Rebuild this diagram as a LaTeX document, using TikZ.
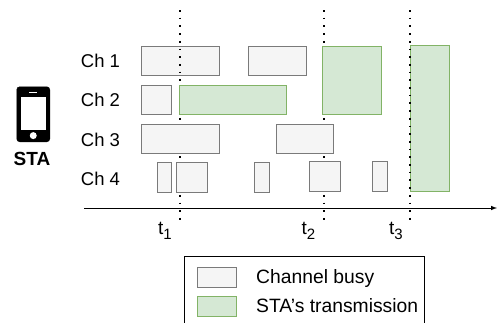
\documentclass[tikz,border=0pt]{standalone}
\usepackage{fontspec}
\setmainfont{Liberation Sans}
\usepackage{tikz}
\usetikzlibrary{arrows,shapes,positioning}
\definecolor{busyfill}{HTML}{F5F5F5}
\definecolor{busyline}{HTML}{7A7A7A}
\definecolor{txfill}{HTML}{D5E8D4}
\definecolor{txline}{HTML}{82B366}
\newcommand{\tsub}[1]{\raisebox{-5pt}{\fontsize{15}{15}\selectfont #1}}
\tikzset{
  basic/.style  = {draw, rectangle, anchor=north west, inner sep=0pt, outer sep=0pt, line width=1pt},
  busy/.style   = {basic, fill=busyfill, draw=busyline},
  tx/.style     = {basic, fill=txfill, draw=txline},
  chan/.style   = {font=\fontsize{18.5}{18.5}\selectfont, inner sep=0pt},
  tick/.style   = {font=\fontsize{19}{19}\selectfont, inner sep=0pt, anchor=base},
  marker/.style = {line width=1.7pt, dash pattern=on 1.7pt off 6pt},
  legtext/.style = {font=\fontsize{19.3}{19.3}\selectfont, inner sep=0pt, anchor=base west}
}

\begin{document}
\begin{tikzpicture}[x=1pt, y=-1pt, >=latex]
\useasboundingbox (0,0) rectangle (497,322);

% end points of the time markers and of the axis
\coordinate (t1top) at (180,10);
\coordinate (t1end) at (180,222);
\coordinate (t2top) at (324,10);
\coordinate (t2end) at (324,222);
\coordinate (t3top) at (410,10);
\coordinate (t3end) at (410,222);
\coordinate (axis0) at (84,208);
\coordinate (axis1) at (497,208);

% the station
\node[draw=black, fill=black, rectangle, rounded corners=3pt, anchor=north west,
  minimum width=33pt, minimum height=55pt, inner sep=0pt, line width=0.5pt] (phone) at (16.5,86.5) {};
\node[fill=white, rectangle, minimum width=25pt, minimum height=33pt, inner sep=0pt,
  below=10.5pt of phone.north] (screen) {};
\node[fill=white, circle, minimum size=7pt, inner sep=0pt, below=1.5pt of screen] (button) {};
\node[fill=white, rectangle, minimum width=8pt, minimum height=1.5pt, inner sep=0pt,
  below=5pt of phone.north] (speaker) {};
\node[font=\bfseries\fontsize{19}{19}\selectfont, inner sep=0pt] (sta) at (32,159) {STA};

% channel names
\node[chan] (ch1) at (100.5,61) {Ch 1};
\node[chan] (ch2) at (100.5,100) {Ch 2};
\node[chan] (ch3) at (100.5,139.5) {Ch 3};
\node[chan] (ch4) at (100.5,178.5) {Ch 4};

% first busy period goes under the first marker
\node[busy, minimum width=78pt, minimum height=29pt] (b1) at (141.5,46.5) {};
\draw[marker] (t1top) -- (t1end);
\draw[marker] (t2top) -- (t2end);

% channel 1
\node[busy, minimum width=58pt, minimum height=29pt] (b2) at (248,46.5) {};
\node[tx, minimum width=58.5pt, minimum height=68pt] (s1) at (322.5,46.5) {};
\node[tx, minimum width=39pt, minimum height=145.5pt] (s2) at (410,45.5) {};
% channel 2
\node[busy, minimum width=29.5pt, minimum height=29pt] (b3) at (141.5,85.5) {};
\node[tx, minimum width=106.5pt, minimum height=29pt] (s3) at (179.5,85.5) {};
% channel 3
\node[busy, minimum width=78pt, minimum height=29pt] (b4) at (141.5,124) {};
\node[busy, minimum width=57.5pt, minimum height=29pt] (b5) at (276,124) {};
% channel 4
\node[busy, minimum width=13.5pt, minimum height=29.5pt] (b6) at (157.5,162.5) {};
\node[busy, minimum width=31pt, minimum height=29.5pt] (b7) at (176,162.5) {};
\node[busy, minimum width=15pt, minimum height=29.5pt] (b8) at (254,162.5) {};
\node[busy, minimum width=31pt, minimum height=29.5pt] (b9) at (309,161.5) {};
\node[busy, minimum width=15pt, minimum height=29.5pt] (b10) at (372,161.5) {};

\draw[marker] (t3top) -- (t3end);

% time axis
\draw[->, line width=1pt] (axis0) -- (axis1);
\node[tick] (t1) at (165,234) {t\tsub{1}};
\node[tick] (t2) at (308.5,234) {t\tsub{2}};
\node[tick] (t3) at (396,234) {t\tsub{3}};

% legend, runs off the bottom of the page
\node[basic, draw=black, minimum width=240pt, minimum height=80pt] (legend) at (184,256) {};
\node[busy, minimum width=39pt, minimum height=20pt] (keybusy) at (197.5,267.5) {};
\node[tx, minimum width=39pt, minimum height=20pt] (keytx) at (197.5,296) {};
\node[legtext] (legbusy) at (256,283.5) {Channel busy};
\node[legtext] (legtx) at (256,312.5) {STA\symbol{39}s transmission};

\end{tikzpicture}
\end{document}
